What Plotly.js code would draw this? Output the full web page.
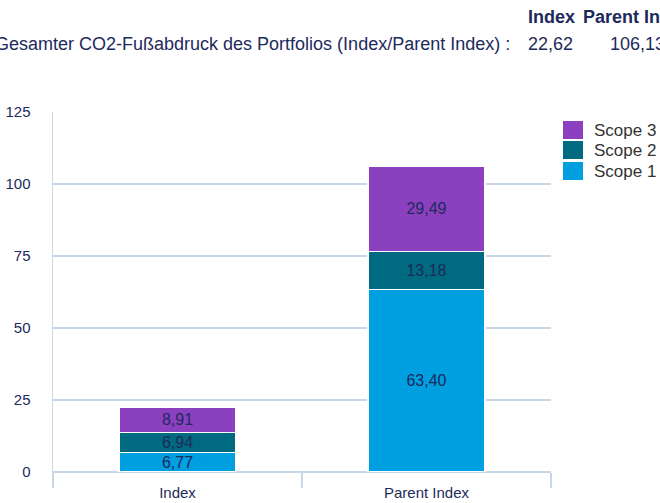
<!DOCTYPE html>
<html><head><meta charset="utf-8">
<script src="https://cdn.plot.ly/plotly-3.0.1.min.js"></script>
<style>html,body{margin:0;padding:0;background:#fff}#c{width:660px;height:503px}</style>
</head><body><div id="c"></div>
<script>
var categories = ["Index", "Parent Index"];
var scope1 = [6.77, 63.40];
var scope2 = [6.94, 13.18];
var scope3 = [8.91, 29.49];
var seriesNames = ["Scope 1", "Scope 2", "Scope 3"];
var totalLabel = "Gesamter CO2-Fußabdruck des Portfolios (Index/Parent Index) :";
var totals = ["22,62", "106,13"];
var yTicks = [0, 25, 50, 75, 100, 125];

var colors = ["#009fe0", "#006a80", "#8a40bf"];
var navy = "#1d2a5c";
var grid = "#c9d6e8";
var font = "Liberation Sans, Arial, sans-serif";

var series = [scope1, scope2, scope3];
var traces = series.map(function (vals, i) {
  return {
    type: "bar", x: categories, y: vals, name: seriesNames[i],
    marker: {color: colors[i], line: {color: "#ffffff", width: 1.5}},
    texttemplate: "%{y:.2f}", textposition: "inside", insidetextanchor: "middle",
    constraintext: "none", cliponaxis: false,
    textfont: {color: navy, size: 16, family: font},
    hoverinfo: "skip", showlegend: false
  };
});

var L = 53, R = 551, T = 112, B = 472, H = B - T;
function px(p) { return (p - L) / (R - L); }
function py(p) { return (B - p) / H; }

var shapes = [{type: "line", xref: "paper", yref: "paper", x0: 0, x1: 0, y0: 0, y1: py(487),
               line: {color: grid, width: 1.5}}];
var annotations = [
  {xref: "paper", yref: "paper", x: px(526), y: py(17), xanchor: "left", yanchor: "middle",
   text: "<b>" + categories[0] + "</b>", showarrow: false, font: {size: 18, color: navy}},
  {xref: "paper", yref: "paper", x: px(581), y: py(17), xanchor: "left", yanchor: "middle",
   text: "<b>" + categories[1] + "</b>", showarrow: false, font: {size: 18, color: navy}},
  {xref: "paper", yref: "paper", x: px(512), y: py(44), xanchor: "right", yanchor: "middle",
   text: totalLabel, showarrow: false, font: {size: 18, color: navy}},
  {xref: "paper", yref: "paper", x: px(526), y: py(44), xanchor: "left", yanchor: "middle",
   text: totals[0], showarrow: false, font: {size: 18, color: navy}},
  {xref: "paper", yref: "paper", x: px(608), y: py(44), xanchor: "left", yanchor: "middle",
   text: totals[1], showarrow: false, font: {size: 18, color: navy}}
];
// legend (Scope 3 on top)
var legTop = [121, 141, 162];
for (var k = 0; k < 3; k++) {
  var i = 2 - k;
  shapes.push({type: "rect", xref: "paper", yref: "paper", x0: px(563), x1: px(583),
               y0: py(legTop[k]), y1: py(legTop[k] + 18), fillcolor: colors[i], line: {width: 0}});
  annotations.push({xref: "paper", yref: "paper", x: px(592), y: py(legTop[k] + 9), xanchor: "left",
                    yanchor: "middle", text: seriesNames[i], showarrow: false,
                    font: {size: 17, color: "#333333"}});
}

var layout = {
  width: 660, height: 503,
  margin: {l: L, r: 660 - R, t: T, b: 503 - B},
  barmode: "stack", bargap: 0.53,
  separators: ",.",
  paper_bgcolor: "#fff", plot_bgcolor: "#fff",
  font: {family: font, color: navy, size: 15},
  showlegend: false,
  xaxis: {
    type: "category", tickson: "boundaries", ticks: "outside", ticklen: 15, tickcolor: grid, tickwidth: 1.5,
    showgrid: false, showline: false, zeroline: false,
    tickfont: {size: 15, color: navy}, ticklabelstandoff: 10
  },
  yaxis: {
    range: [0, 125], tickvals: yTicks, ticks: "", showgrid: true, gridcolor: grid, gridwidth: 1.5,
    showline: true, linecolor: grid, linewidth: 1.5, zeroline: true, zerolinecolor: grid, zerolinewidth: 1.5,
    tickfont: {size: 15, color: navy}, ticklabelstandoff: 18, fixedrange: true
  },
  shapes: shapes,
  annotations: annotations
};
Plotly.newPlot("c", traces, layout, {displayModeBar: false, staticPlot: true});
</script></body></html>
